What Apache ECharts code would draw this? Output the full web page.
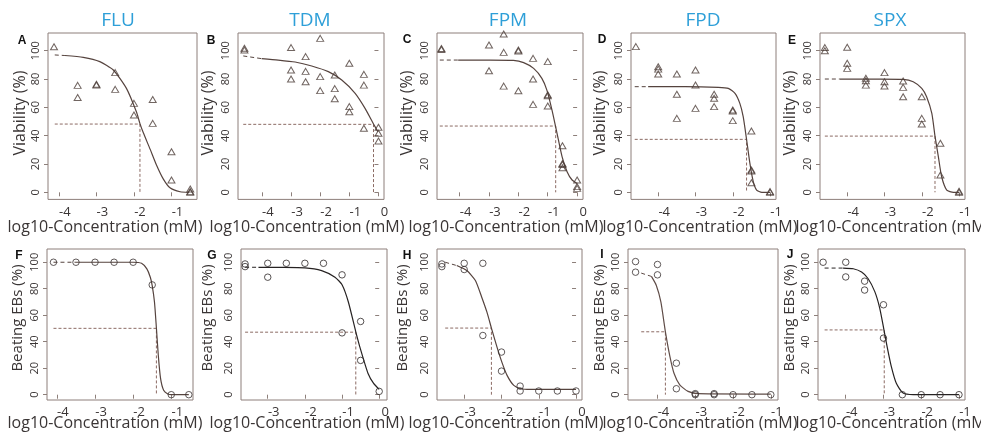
<!DOCTYPE html>
<html><head><meta charset="utf-8">
<script src="https://cdn.jsdelivr.net/npm/echarts@6/dist/echarts.min.js"></script>
<style>html,body{margin:0;padding:0;background:#fff}#c{width:981px;height:432px}</style>
</head><body><div id="c"></div><script>
// ---------- DATA ----------
const drugNames = ['FLU', 'TDM', 'FPM', 'FPD', 'SPX'];
const panelLetters = ['A','B','C','D','E','F','G','H','I','J'];
const yTickValues = [0, 20, 40, 60, 80, 100];
const xTicksA = [-4,-3,-2,-1], xTicksB = [-4,-3,-2,-1,0], xTicksC = [-4,-3,-2,-1,0], xTicksD = [-4,-3,-2,-1], xTicksE = [-4,-3,-2,-1];
const xTicksF = [-4,-3,-2,-1], xTicksG = [-3,-2,-1,0], xTicksH = [-3,-2,-1,0], xTicksI = [-4,-3,-2,-1], xTicksJ = [-4,-3,-2,-1];
const yNameTop = 'Viability (%)', yNameBottom = 'Beating EBs (%)', xName = 'log10-Concentration (mM)';

// Viability (triangles)
const ptsA = [[-4.13,102.8],[-3.5,75.5],[-3.5,67.0],[-3,75.8],[-3,76.3],[-2.5,84.5],[-2.5,72.7],[-2,62.8],[-2,54.6],[-1.5,65.6],[-1.5,48.7],[-1,28.7],[-1,8.7],[-0.5,2.3],[-0.5,0.5],[-0.5,0]];
const curveA = [[-4.11,97.0],[-3.84,96.6],[-3.35,95.3],[-2.91,92.3],[-2.55,86.4],[-2.2,73.4],[-1.93,56.5],[-1.84,48.5],[-1.75,42],[-1.57,30.5],[-1.4,19.3],[-1.22,9.5],[-1.04,3.2],[-0.77,0.4],[-0.53,0]];
const ic50A = [-1.84, 48.2];

const ptsB = [[-4.6,101.7],[-4.6,100.5],[-3,102.2],[-3,86.4],[-3,80.0],[-2.5,95.8],[-2.5,85.4],[-2.5,78.1],[-2,108.7],[-2,81.7],[-2,71.8],[-1.5,82.8],[-1.5,73.2],[-1.5,66.1],[-1,91.1],[-1,60.5],[-1,56.9],[-0.5,83.3],[-0.5,75.7],[-0.5,45.2],[0,45.9],[0,41.7],[0,36.2]];
const curveB = [[-4.64,96.3],[-4.01,94.4],[-3.44,93.4],[-2.86,92.0],[-2.29,89.2],[-1.72,85.2],[-1.26,79.3],[-0.8,69.9],[-0.46,59.3],[-0.17,48.3],[-0.02,42.8]];
const ic50B = [-0.17, 48.0];

const ptsC = [[-4.62,101.6],[-4.62,100.8],[-3,104.0],[-3,85.8],[-2.5,111.8],[-2.5,98.8],[-2.5,75.0],[-2,100.5],[-2,99.8],[-2,71.7],[-1.5,94.6],[-1.5,80.0],[-1.5,62.1],[-1,92.3],[-1,68.9],[-1,68.2],[-1,60.9],[-0.5,32.9],[-0.5,20.4],[-0.5,19.7],[-0.5,17.4],[0,8.7],[0,4.0],[0,2.8]];
const curveC = [[-4.675,93.4],[-4.05,93.4],[-2.96,93.4],[-2.17,93.2],[-1.82,91.6],[-1.48,87.5],[-1.2,80.5],[-1.03,72.2],[-0.855,58.1],[-0.684,41.7],[-0.513,25.2],[-0.342,14.6],[-0.171,8.7],[0,6.3]];
const ic50C = [-0.73, 46.8];

const ptsD = [[-4.6,102.9],[-4,88.7],[-4,87.0],[-4,83.5],[-3.5,83.5],[-3.5,69.2],[-3.5,52.2],[-3,86.4],[-3,75.8],[-3,59.3],[-2.5,69.2],[-2.5,66.4],[-2.5,60.5],[-2,58.1],[-2,57.4],[-2,50.6],[-1.5,43.3],[-1.5,15.8],[-1.5,15.0],[-1.5,6.8],[-1,0.5],[-1,0]];
const curveD = [[-4.63,74.6],[-4.27,74.6],[-3.28,74.6],[-2.39,74.1],[-2.12,73.4],[-1.94,69.9],[-1.81,62.8],[-1.72,53.4],[-1.63,37.4],[-1.54,20.4],[-1.45,7.5],[-1.36,1.6],[-1.22,0],[-1,0]];
const ic50D = [-1.63, 37.4];

const ptsE = [[-4.6,102.2],[-4.6,100.0],[-4,102.4],[-4,91.1],[-4,87.5],[-3.5,80.5],[-3.5,78.8],[-3.5,75.7],[-3,84.5],[-3,78.1],[-3,75.1],[-2.5,78.6],[-2.5,74.1],[-2.5,67.5],[-2,67.5],[-2,52.2],[-2,48.2],[-1.5,34.6],[-1.5,12.2],[-1,0.7],[-1,0]];
const curveE = [[-4.6,80.0],[-4.2,80.0],[-3.12,80.0],[-2.5,79.8],[-2.23,78.1],[-2.0,73.4],[-1.87,67.5],[-1.73,55.7],[-1.645,39.7],[-1.555,25.2],[-1.466,11.0],[-1.33,1.6],[-1.15,0],[-1,0]];
const ic50E = [-1.645, 39.7];

// Beating EBs (circles)
const ptsF = [[-4.09,100],[-3.5,100],[-3,100],[-2.5,100],[-2,100],[-1.5,82.9],[-1,0],[-0.54,0]];
const curveF = [[-4.09,100],[-3.5,100],[-2,100],[-1.78,99.2],[-1.64,95],[-1.55,88.7],[-1.5,82.4],[-1.44,69.8],[-1.39,50.3],[-1.34,29.6],[-1.28,12.1],[-1.2,3.3],[-1.09,0.5],[-1,0],[-0.54,0]];
const ic50F = [-1.39, 50.1];

const ptsG = [[-3.61,98.7],[-3.61,96.7],[-3,99.2],[-3,88.7],[-2.5,99.2],[-2,99.2],[-1.5,99.2],[-1,90.5],[-1,46.7],[-0.5,55.3],[-0.5,25.9],[0,2.5]];
const curveG = [[-3.61,96.2],[-3.25,96.2],[-2.71,96.1],[-2.0,95.8],[-1.55,93.7],[-1.19,88.7],[-1.0,83],[-0.83,70],[-0.63,47.5],[-0.5,34],[-0.3,16],[-0.15,8.5],[0,4.0]];
const ic50G = [-0.63, 47.2];

const ptsH = [[-3.6,98.7],[-3.6,96.7],[-3,99.2],[-3,94.5],[-2.5,99.2],[-2.5,44.7],[-2,32.2],[-2,17.8],[-1.5,6.5],[-1.5,2.8],[-1,2.8],[-0.5,2.8],[0,2.8]];
const curveH = [[-3.51,100],[-3.2,97.5],[-2.93,93.7],[-2.7,86.2],[-2.53,73.6],[-2.39,62.3],[-2.27,50.3],[-2.12,35.9],[-1.99,24.6],[-1.85,14.6],[-1.67,7.0],[-1.48,4.5],[-1.23,4.0],[0,4.0]];
const ic50H = [-2.27, 50.3];

const ptsI = [[-4.58,100.5],[-4.58,92.5],[-4,98.3],[-4,90.5],[-3.5,23.8],[-3.5,4.5],[-3,0.8],[-3,0],[-2.5,0.8],[-2.5,0],[-2,0],[-1.5,0],[-1,0]];
const curveI = [[-4.43,91.8],[-4.16,89.3],[-4.03,82.5],[-3.91,70],[-3.79,47.5],[-3.67,28.8],[-3.56,16],[-3.41,7.5],[-3.19,2.5],[-2.92,0.8],[-1,0.5]];
const ic50I = [-3.79, 47.5];

const ptsJ = [[-4.6,100],[-4,100],[-4,88.9],[-3.5,85.7],[-3.5,79.0],[-3,67.9],[-3,42.7],[-2.5,0],[-2,0],[-1.5,0],[-1,0]];
const curveJ = [[-4.56,95.6],[-4.07,95.6],[-3.8,95.1],[-3.58,92.6],[-3.41,87.7],[-3.23,77.8],[-3.1,65.4],[-2.99,49.4],[-2.9,35.8],[-2.79,21.0],[-2.66,8.6],[-2.48,1.2],[-2.21,0],[-1,0]];
const ic50J = [-2.98, 48.9];

// ---------- LAYOUT / STYLE ----------
const panelData = [
  [ptsA, curveA, ic50A, xTicksA], [ptsB, curveB, ic50B, xTicksB], [ptsC, curveC, ic50C, xTicksC],
  [ptsD, curveD, ic50D, xTicksD], [ptsE, curveE, ic50E, xTicksE], [ptsF, curveF, ic50F, xTicksF],
  [ptsG, curveG, ic50G, xTicksG], [ptsH, curveH, ic50H, xTicksH], [ptsI, curveI, ic50I, xTicksI],
  [ptsJ, curveJ, ic50J, xTicksJ]
];
// left, width, xmin, xmax, row
const layout = [
  [48,149,-4.29,-0.32,0],[238,146,-4.82,0.19,0],[437,146,-4.77,0.2,0],[631,145,-4.73,-0.84,0],[820,145,-4.73,-0.84,0],
  [47,146,-4.26,-0.43,1],[241,146,-3.72,0.21,1],[437,145,-3.73,0.16,1],[628,150,-4.78,-0.81,1],[818,147,-4.735,-0.84,1]
];
const rows = [{top:33,height:166.4,ymin:-5,ymax:112.5},{top:249,height:151,ymin:-4,ymax:110}];
const boxColor = '#8d7f7a', dashColor = '#8c6b64', textColor = '#3a3535';
const curveColors = ['#55433e','#55433e','#55433e','#55433e','#55433e','#55433e','#262222','#55433e','#5f4c47','#262222'];
const markColors = ['#4e3f3a','#4e3f3a','#4e3f3a','#4e3f3a','#4e3f3a','#3a3232','#2e2828','#3a3232','#3a3232','#2e2828'];
const fontFam = '"Open Sans", "DejaVu Sans", sans-serif';

const grids = [], xAxes = [], yAxes = [], series = [];
panelData.forEach((p, i) => {
  const [pts, curve, ic50, ticks] = p;
  const L = layout[i], R = rows[L[4]];
  grids.push({left:L[0], top:R.top, width:L[1], height:R.height, show:true, borderColor:boxColor, borderWidth:1,
    backgroundColor:'transparent', containLabel:false, outerBoundsMode:'none'});
  xAxes.push({gridIndex:i, type:'value', min:L[2], max:L[3],
    axisLine:{show:false}, splitLine:{show:false},
    axisTick:{show:true, length:4, customValues:ticks, lineStyle:{color:boxColor, width:1}},
    axisLabel:{customValues:ticks, margin:6, fontSize:13, color:textColor, fontFamily:fontFam, padding:[0,0,0,12],
      formatter: v => String(v)}});
  yAxes.push({gridIndex:i, type:'value', min:R.ymin, max:R.ymax,
    axisLine:{show:false}, splitLine:{show:false},
    axisTick:{show:true, length:4, customValues:yTickValues, lineStyle:{color:boxColor, width:1}},
    axisLabel:{customValues:yTickValues, rotate:90, margin:7, fontSize:11, color:textColor, fontFamily:fontFam}});
  const x0 = curve[0][0];
  series.push({type:'line', xAxisIndex:i, yAxisIndex:i, data:[[x0, ic50[1]],[ic50[0], ic50[1]],[ic50[0], 0]],
    symbol:'none', silent:true, z:1, lineStyle:{color:dashColor, width:1, type:[3,2]}});
  series.push({type:'line', xAxisIndex:i, yAxisIndex:i, data:curve.slice(0,2), symbol:'none', silent:true, z:2,
    lineStyle:{color:curveColors[i], width:1, type:[4,3]}});
  series.push({type:'line', xAxisIndex:i, yAxisIndex:i, data:curve.slice(1), symbol:'none', silent:true, z:2,
    smooth:0.2, lineStyle:{color:curveColors[i], width:1.2}});
  series.push({type:'scatter', xAxisIndex:i, yAxisIndex:i, data:pts, silent:true, z:3,
    symbol: L[4] === 0 ? 'triangle' : 'circle', symbolSize: L[4] === 0 ? [7,6] : 6.5,
    itemStyle:{color:'rgba(0,0,0,0)', borderColor:markColors[i], borderWidth:1}});
});

const titlePos = [[118,21],[310,21],[508,21],[703,21],[890,21]];
const letterPos = [[22,41],[211,41],[407,40],[602,40],[792,41],[19,256],[212,256],[407,256],[602,255],[790,255]];
const yNamePos = [[20,113],[208,113],[407,113],[600,113],[790,113],[18,318],[208,318],[403,318],[600,318],[790,318]];
const xNamePos = [[105,227],[307,227],[506,227],[700,227],[893,227],[105,423],[307,423],[506,423],[700,423],[893,423]];

const graphics = [];
drugNames.forEach((t, i) => graphics.push({type:'text', x:titlePos[i][0], y:titlePos[i][1],
  style:{text:t, fill:'#2e9fd8', fontSize:19, fontFamily:fontFam, textAlign:'center', textVerticalAlign:'middle'}}));
panelLetters.forEach((t, i) => graphics.push({type:'text', x:letterPos[i][0], y:letterPos[i][1],
  style:{text:t, fill:'#111', fontSize:12, fontWeight:'bold', fontFamily:'"Liberation Sans", Arial, sans-serif', textAlign:'center', textVerticalAlign:'middle'}}));
yNamePos.forEach((p, i) => graphics.push({type:'text', x:p[0], y:p[1], rotation:Math.PI/2,
  style:{text: i < 5 ? yNameTop : yNameBottom, fill:textColor, fontSize: i < 5 ? 16 : 15, fontFamily:fontFam, textAlign:'center', textVerticalAlign:'middle'}}));
xNamePos.forEach((p, i) => graphics.push({type:'text', x:p[0], y:p[1],
  style:{text:xName, fill:textColor, fontSize:16, fontFamily:fontFam, textAlign:'center', textVerticalAlign:'middle'}}));

const chart = echarts.init(document.getElementById('c'), null, {renderer:'canvas'});
chart.setOption({animation:false, backgroundColor:'#fff', grid:grids, xAxis:xAxes, yAxis:yAxes, series:series, graphic:graphics});
</script></body></html>
